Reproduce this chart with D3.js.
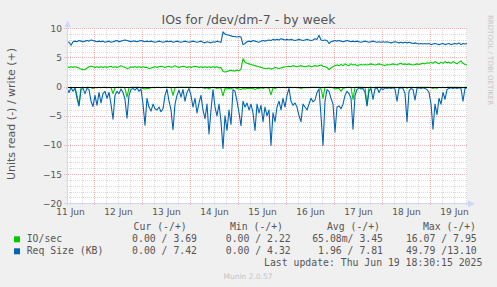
<!DOCTYPE html>
<html>
<head>
<meta charset="utf-8">
<script src="https://cdn.jsdelivr.net/npm/d3@7"></script>
<style>
  html, body { margin: 0; padding: 0; background: #f0f0f0; }
  svg { display: block; }
  text { font-family: "DejaVu Sans", sans-serif; }
  .mono { font-family: "DejaVu Sans Mono", monospace; white-space: pre; }
</style>
</head>
<body>
<svg id="chart" width="497" height="287"></svg>
<script>
'use strict';

// one sample per hour, first sample at 11 Jun 10:30 UTC
const START_UTC = Date.UTC(2025, 5, 11, 10, 30);
const HOUR = 3600 * 1000;

// IO/sec read (drawn below zero)
const ioRead = [
  0.1, 0.2, 0.1, 0.2, 0.1, 1.5, 3.2, 0.2, 0.1, 0.2,
  0.1, 0.1, 0.2, 0.3, 0.2, 0.2, 0.1, 0.2, 0.1, 0.1,
  0.2, 0.1, 0.2, 1.2, 0.2, 0.1, 0.1, 0.1, 0.1, 0.3,
  1.8, 0.2, 0.1, 0.1, 0.1, 0.1, 0.1, 0.2, 0.3, 0.4,
  0.3, 0.3, 0.2, 0.1, 0.2, 0.1, 0.1, 0.2, 0.1, 0.1,
  0.1, 0.1, 0.2, 1.5, 0.2, 0.1, 0.1, 0.1, 0.1, 0.1,
  0.1, 0.1, 0.1, 0.2, 0.1, 0.2, 0.2, 0.1, 0.2, 0.3,
  0.2, 0.4, 0.2, 0.1, 0.2, 0.3, 0.2, 0.3, 1.6, 0.3,
  0.4, 0.3, 0.4, 0.2, 0.2, 0.3, 0.4, 0.5, 0.3, 0.4,
  0.3, 0.3, 0.3, 0.3, 0.5, 0.3, 0.3, 0.2, 0.3, 0.2,
  0.2, 0.3, 1.4, 0.2, 0.3, 0.2, 0.1, 0.2, 0.1, 0.2,
  0.1, 0.1, 0.1, 0.2, 0.1, 0.2, 0.2, 0.3, 0.2, 0.2,
  0.2, 0.2, 0.1, 0.1, 0.1, 0.1, 0.1, 0.4, 2.0, 0.1,
  0.1, 0.1, 0.1, 0.2, 0.4, 0.3, 0.3, 0.8, 0.3, 0.2,
  0.1, 0.1, 0.1, 2.2, 0.1, 0.1, 0.1, 0.1, 0.1, 0.1,
  3.2, 0.1, 0.1, 0.2, 0.1, 0.1, 0.1, 0.1, 0.1, 0.1,
  0.1, 0.1, 0.1, 0.1, 0.1, 0.2, 0.1, 0.1, 0.1, 0.1,
  0.3, 0.1, 0.1, 0.1, 0.2, 0.1, 0.1, 0.1, 0.1, 0.1,
  0.1, 0.1, 0.2, 0.3, 0.2, 0.3, 0.1, 0.2, 0.1, 0.2,
  0.1, 0.1, 0.1, 0.1, 0.1, 0.1, 0.1, 0.1, 0.2, 0.1,
  0.1
];

// IO/sec write
const ioWrite = [
  3.4, 3.3, 3.4, 3.3, 3.4, 3.3, 3.2, 3.0, 2.9, 2.9,
  3.2, 3.4, 3.5, 3.4, 3.3, 3.4, 3.3, 3.4, 3.3, 3.4,
  3.3, 3.4, 3.5, 3.3, 3.4, 3.3, 3.4, 3.6, 3.4, 3.3,
  3.1, 3.2, 3.4, 3.3, 3.4, 3.3, 3.4, 3.3, 3.4, 3.3,
  3.3, 3.1, 3.2, 3.3, 3.4, 3.3, 3.4, 3.5, 3.4, 3.3,
  3.4, 3.5, 3.3, 3.4, 3.6, 3.4, 3.3, 3.4, 3.5, 3.4,
  3.3, 3.4, 3.3, 3.4, 3.5, 3.4, 3.3, 3.4, 3.3, 3.4,
  3.3, 3.4, 3.3, 3.4, 3.3, 3.4, 3.2, 3.3, 2.6, 2.5,
  2.6, 2.7, 2.8, 2.7, 2.7, 2.8, 2.7, 3.0, 4.8, 4.2,
  4.0, 3.9, 3.8, 3.7, 3.6, 3.5, 3.4, 3.3, 3.2, 3.1,
  3.1, 3.2, 3.0, 3.1, 3.3, 3.2, 3.1, 3.2, 3.3, 3.4,
  3.4, 3.5, 3.4, 3.6, 3.5, 3.4, 3.5, 3.6, 3.5, 3.4,
  3.5, 3.6, 3.4, 3.5, 3.6, 3.5, 3.6, 3.7, 3.5, 3.4,
  3.3, 2.9, 3.2, 3.4, 3.6, 3.7, 3.6, 3.8, 3.6, 3.9,
  3.7, 3.6, 3.9, 3.7, 3.8, 3.6, 3.7, 3.8, 3.7, 3.8,
  3.7, 3.8, 3.9, 3.8, 3.7, 3.8, 3.9, 3.8, 3.7, 3.6,
  3.8, 3.7, 3.8, 3.9, 3.8, 3.7, 3.9, 4.0, 3.8, 3.9,
  3.8, 3.9, 3.8, 3.7, 3.8, 3.9, 3.8, 3.9, 4.0, 3.9,
  4.1, 4.0, 4.2, 4.0, 4.3, 4.1, 3.9, 4.2, 4.0, 4.3,
  4.1, 4.2, 4.0, 4.3, 4.1, 3.9, 4.2, 4.4, 4.0, 3.8,
  3.7
];

// Req Size (KB) read (drawn below zero)
const sizeRead = [
  0.3, 1.0, 0.2, 0.8, 0.3, 2.0, 3.3, 0.5, 0.3, 1.2,
  0.3, 0.5, 2.5, 3.4, 1.5, 3.2, 1.0, 2.8, 1.2, 0.8,
  2.0, 1.0, 3.0, 5.6, 1.5, 0.8, 1.2, 0.4, 1.0, 2.2,
  5.4, 1.5, 0.5, 0.3, 0.6, 0.2, 0.8, 0.4, 3.0, 6.6,
  2.0, 3.5, 4.2, 3.0, 3.8, 4.0, 3.5, 4.3, 3.8, 1.5,
  0.4, 2.5, 4.0, 7.4, 3.0, 1.5, 0.6, 1.8, 0.5, 2.5,
  1.0, 0.3, 1.5, 3.5, 2.0, 4.5, 2.8, 1.5, 4.0, 5.5,
  3.0, 8.1, 4.0, 0.5, 3.5, 5.0, 3.0, 6.0, 10.6, 5.0,
  7.5, 4.0, 6.5, 0.5, 0.8, 2.5, 4.5, 6.7, 2.5, 3.5,
  2.8, 4.0, 3.0, 4.5, 7.5, 3.0, 4.5, 3.2, 6.0, 3.5,
  5.0, 4.0, 10.1, 4.5, 6.0, 3.5, 2.5, 4.0, 2.0, 3.5,
  1.5, 0.3, 2.5, 3.2, 2.8, 3.5, 5.0, 6.0, 3.0, 3.5,
  4.0, 3.0, 2.0, 2.6, 2.3, 1.0, 0.4, 5.0, 10.1, 2.5,
  0.5, 0.8, 2.0, 3.0, 7.8, 3.5, 3.3, 3.8, 3.0, 1.5,
  0.8, 1.2, 2.0, 7.3, 1.5, 0.5, 0.2, 0.4, 0.3, 1.0,
  3.3, 0.8, 0.3, 2.2, 0.4, 0.2, 1.0, 0.3, 0.5, 0.2,
  0.3, 0.2, 0.3, 0.2, 0.4, 2.5, 0.3, 0.2, 0.3, 1.2,
  6.0, 0.8, 0.3, 0.5, 2.3, 0.3, 0.2, 0.3, 0.2, 0.3,
  0.5, 1.0, 3.0, 7.3, 3.0, 4.8, 2.0, 3.0, 1.0, 2.2,
  0.5, 0.3, 0.2, 0.3, 0.2, 0.3, 0.2, 0.3, 2.5, 0.3,
  0.2
];

// Req Size (KB) write
const sizeWrite = [
  7.7, 7.6, 7.1, 7.7, 7.8, 7.7, 7.9, 7.8, 7.7, 7.8,
  7.9, 7.8, 8.0, 7.9, 7.8, 7.7, 7.8, 7.7, 7.8, 7.6,
  7.7, 7.8, 7.6, 7.7, 7.8, 7.9, 7.7, 7.8, 7.9, 8.0,
  7.9, 7.8, 7.7, 7.8, 7.8, 7.7, 7.8, 7.9, 7.8, 7.7,
  7.8, 7.7, 7.8, 7.7, 7.6, 7.7, 7.8, 7.7, 7.6, 7.7,
  7.8, 7.7, 7.8, 7.6, 7.7, 7.8, 7.7, 7.6, 7.7, 7.8,
  7.7, 7.6, 7.7, 7.8, 7.7, 7.6, 7.7, 7.8, 7.6, 7.5,
  7.7, 7.6, 7.5, 7.7, 7.6, 7.8, 7.7, 7.6, 9.4, 9.0,
  8.9, 8.8, 8.7, 8.6, 8.6, 8.5, 8.6, 8.5, 7.2, 7.4,
  7.7, 7.8, 7.7, 7.9, 7.8, 7.7, 7.6, 7.8, 7.9, 7.8,
  7.9, 8.0, 7.9, 8.1, 8.0, 8.1, 8.0, 8.2, 8.1, 8.0,
  8.1, 8.0, 8.1, 8.0, 7.9, 8.0, 8.1, 8.0, 7.9, 8.0,
  8.1, 8.0, 7.9, 8.0, 8.2, 8.1, 8.8, 8.0, 7.9, 8.0,
  7.9, 7.4, 7.7, 7.8, 7.9, 7.8, 7.9, 7.8, 7.7, 7.8,
  7.9, 7.8, 7.7, 7.8, 7.7, 7.8, 7.7, 7.6, 7.7, 7.8,
  7.7, 7.6, 7.7, 7.8, 7.7, 7.6, 7.7, 7.6, 7.7, 7.6,
  7.7, 7.6, 7.5, 7.6, 7.7, 7.6, 7.5, 7.6, 7.5, 7.6,
  7.5, 7.6, 7.5, 7.4, 7.5, 7.4, 7.3, 7.4, 7.3, 7.4,
  7.3, 7.4, 7.2, 7.3, 7.4, 7.3, 7.2, 7.3, 7.4, 7.2,
  7.3, 7.4, 7.2, 7.3, 7.4, 7.3, 7.5, 7.2, 7.4, 7.3,
  7.4
];

const yTicks = [-20, -15, -10, -5, 0, 5, 10];
const xTickDays = [11, 12, 13, 14, 15, 16, 17, 18, 19];
const xTickLabels = ['11 Jun', '12 Jun', '13 Jun', '14 Jun', '15 Jun', '16 Jun', '17 Jun', '18 Jun', '19 Jun'];

const legendNames = ['IO/sec', 'Req Size (KB)'];
const legendColors = ['#00cc00', '#0066b3'];
const legendHeaders = ['Cur (-/+)', 'Min (-/+)', 'Avg (-/+)', 'Max (-/+)'];
const legendCur = ['0.00 / 3.69', '0.00 / 7.42'];
const legendMin = ['0.00 / 2.22', '0.00 / 4.32'];
const legendAvg = ['65.08m/ 3.45', '1.96 / 7.81'];
const legendMax = ['16.07 / 7.95', '49.79 /13.10'];

(function () {
  const W = 497;
  const H = 287;
  const plot = { left: 67, right: 467, top: 28.3, bottom: 203.3 };
  const fontColor = '#555';
  const axisColor = '#cfd6f8';
  const minorGrid = '#dadada';
  const majorGrid = '#f2b4b4';

  const svg = d3.select('#chart');

  const t0 = new Date(START_UTC);
  const t1 = new Date(START_UTC + (sizeRead.length - 1) * HOUR);
  const x = d3.scaleUtc().domain([t0, t1]).range([plot.left, plot.right]);
  const y = d3.scaleLinear().domain([-20, 10]).range([plot.bottom, plot.top]);
  const timeAt = (i) => new Date(START_UTC + i * HOUR);

  svg.append('rect').attr('width', W).attr('height', H).attr('fill', '#f0f0f0');
  svg.append('rect')
    .attr('x', plot.left).attr('y', plot.top)
    .attr('width', plot.right - plot.left).attr('height', plot.bottom - plot.top)
    .attr('fill', '#ffffff');

  // grid
  const grid = svg.append('g').attr('shape-rendering', 'crispEdges');
  const px = (v) => Math.round(v) + 0.5;

  const hMinor = d3.range(-20, 11).filter((v) => v % 5 !== 0);
  const hMajor = d3.range(-20, 11).filter((v) => v % 5 === 0);
  const vMinor = d3.utcHour.every(6).range(t0, t1).filter((d) => d.getUTCHours() !== 0);
  const vMajor = d3.utcDay.range(t0, t1);

  grid.selectAll('line.hmin').data(hMinor).join('line')
    .attr('x1', plot.left - 2).attr('x2', plot.right)
    .attr('y1', (d) => px(y(d))).attr('y2', (d) => px(y(d)))
    .attr('stroke', minorGrid).attr('stroke-dasharray', '1,1');
  grid.selectAll('line.vmin').data(vMinor).join('line')
    .attr('x1', (d) => px(x(d))).attr('x2', (d) => px(x(d)))
    .attr('y1', plot.top).attr('y2', plot.bottom + 2)
    .attr('stroke', minorGrid).attr('stroke-dasharray', '1,1');
  grid.selectAll('line.hmaj').data(hMajor).join('line')
    .attr('x1', plot.left - 3).attr('x2', plot.right)
    .attr('y1', (d) => px(y(d))).attr('y2', (d) => px(y(d)))
    .attr('stroke', majorGrid).attr('stroke-dasharray', '1,1');
  grid.selectAll('line.vmaj').data(vMajor).join('line')
    .attr('x1', (d) => px(x(d))).attr('x2', (d) => px(x(d)))
    .attr('y1', plot.top).attr('y2', plot.bottom + 3)
    .attr('stroke', majorGrid).attr('stroke-dasharray', '1,1');

  // series: read values mirrored below zero
  const line = (sign) => d3.line()
    .x((d, i) => x(timeAt(i)))
    .y((d) => y(sign * d));

  const series = [
    [ioRead, -1, legendColors[0]],
    [ioWrite, 1, legendColors[0]],
    [sizeRead, -1, legendColors[1]],
    [sizeWrite, 1, legendColors[1]]
  ];
  const lines = svg.append('g');
  series.forEach(([values, sign, color]) => {
    lines.append('path')
      .datum(values)
      .attr('d', line(sign))
      .attr('fill', 'none')
      .attr('stroke', color)
      .attr('stroke-width', 1.1)
      .attr('stroke-linejoin', 'round');
  });

  // zero line
  svg.append('line')
    .attr('x1', plot.left).attr('x2', plot.right)
    .attr('y1', px(y(0))).attr('y2', px(y(0)))
    .attr('stroke', '#000').attr('shape-rendering', 'crispEdges');

  // axes
  const yAxis = svg.append('g')
    .attr('transform', `translate(${plot.left + 0.5},0)`)
    .call(d3.axisLeft(y).tickValues(yTicks).tickSize(0).tickPadding(5.5).tickSizeOuter(0));
  yAxis.select('.domain').remove();
  yAxis.selectAll('text').attr('fill', fontColor).attr('font-size', 9)
    .attr('font-family', '"DejaVu Sans", sans-serif');

  const noon = xTickDays.map((d) => new Date(Date.UTC(2025, 5, d, 12)));
  const xAxis = svg.append('g')
    .attr('transform', `translate(0,${plot.bottom})`)
    .call(d3.axisBottom(x).tickValues(noon).tickFormat((d, i) => xTickLabels[i]).tickSize(0).tickPadding(5));
  xAxis.select('.domain').remove();
  xAxis.selectAll('text').attr('fill', fontColor).attr('font-size', 9)
    .attr('font-family', '"DejaVu Sans", sans-serif');

  const axisG = svg.append('g').attr('shape-rendering', 'crispEdges');
  axisG.append('line')
    .attr('x1', plot.left + 0.5).attr('x2', plot.left + 0.5)
    .attr('y1', plot.bottom + 3).attr('y2', 22)
    .attr('stroke', axisColor);
  axisG.append('line')
    .attr('x1', plot.left - 3).attr('x2', 472)
    .attr('y1', px(plot.bottom)).attr('y2', px(plot.bottom))
    .attr('stroke', axisColor);
  svg.append('path')
    .attr('d', `M${plot.left - 2.5},${plot.top - 1}L${plot.left + 3.5},${plot.top - 1}L${plot.left + 0.5},${plot.top - 8}Z`)
    .attr('fill', axisColor);
  svg.append('path')
    .attr('d', `M${plot.right + 1},${plot.bottom - 3}L${plot.right + 1},${plot.bottom + 4}L${plot.right + 8},${plot.bottom + 0.5}Z`)
    .attr('fill', axisColor);

  // titles
  svg.append('text')
    .attr('x', 248.5).attr('y', 24)
    .attr('text-anchor', 'middle')
    .attr('font-size', 12.5)
    .attr('fill', fontColor)
    .text('IOs for /dev/dm-7 - by week');

  svg.append('text')
    .attr('transform', 'translate(14.5,114) rotate(-90)')
    .attr('text-anchor', 'middle')
    .attr('font-size', 11)
    .attr('fill', fontColor)
    .text('Units read (-) / write (+)');

  svg.append('text')
    .attr('transform', 'translate(487.5,15) rotate(90)')
    .attr('font-size', 7)
    .attr('fill', '#c4c4c4')
    .text('RRDTOOL / TOBI OETIKER');

  // legend
  const legend = svg.append('g').attr('class', 'mono').attr('font-size', 9.8).attr('fill', fontColor);
  const colEnds = [197, 290.7, 383, 476.7];
  const headEnds = [186.7, 283, 380, 476];
  const rowBase = [242.3, 254.3];

  legendHeaders.forEach((h, i) => {
    legend.append('text').attr('class', 'mono')
      .attr('x', headEnds[i]).attr('y', 230.3)
      .attr('text-anchor', 'end').text(h);
  });

  legendNames.forEach((name, r) => {
    svg.append('rect')
      .attr('x', 14).attr('y', rowBase[r] - 6)
      .attr('width', 6).attr('height', 6)
      .attr('fill', legendColors[r]);
    legend.append('text').attr('class', 'mono')
      .attr('x', 26.7).attr('y', rowBase[r]).text(name);
    [legendCur, legendMin, legendAvg, legendMax].forEach((col, c) => {
      legend.append('text').attr('class', 'mono')
        .attr('x', colEnds[c]).attr('y', rowBase[r])
        .attr('text-anchor', 'end').text(col[r]);
    });
  });

  legend.append('text').attr('class', 'mono')
    .attr('x', 482.3).attr('y', 266.3)
    .attr('text-anchor', 'end')
    .text('Last update: Thu Jun 19 18:30:15 2025');

  svg.append('text')
    .attr('x', 248).attr('y', 279)
    .attr('text-anchor', 'middle')
    .attr('font-size', 7.5)
    .attr('fill', '#c4c4c4')
    .text('Munin 2.0.57');
})();
</script>
</body>
</html>
